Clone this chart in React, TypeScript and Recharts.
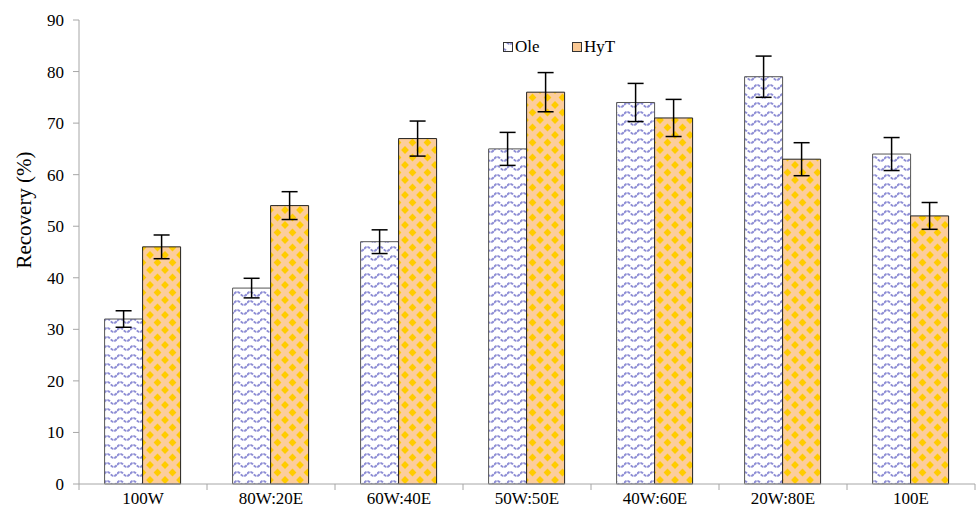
import { BarChart, Bar, XAxis, YAxis, ErrorBar } from 'recharts'

const categories = ['100W', '80W:20E', '60W:40E', '50W:50E', '40W:60E', '20W:80E', '100E']
const oleValues = [32, 38, 47, 65, 74, 79, 64]
const oleErrors = [1.6, 1.9, 2.3, 3.2, 3.7, 4.0, 3.2]
const hytValues = [46, 54, 67, 76, 71, 63, 52]
const hytErrors = [2.3, 2.7, 3.4, 3.8, 3.6, 3.2, 2.6]
const yTicks = [0, 10, 20, 30, 40, 50, 60, 70, 80, 90]

const data = categories.map((name, i) => ({
  name,
  ole: oleValues[i],
  oleErr: oleErrors[i],
  hyt: hytValues[i],
  hytErr: hytErrors[i],
}))

const FONT = 'Liberation Serif, Times New Roman, serif'
const AXIS = '#a6a6a6'
const BAND = 896 / categories.length

function XTick(props: any) {
  const { x, y, payload, index } = props
  return (
    <g>
      <line x1={x - BAND / 2} y1={y - 8} x2={x - BAND / 2} y2={y - 2} stroke={AXIS} />
      {index === categories.length - 1 && (
        <line x1={x + BAND / 2} y1={y - 8} x2={x + BAND / 2} y2={y - 2} stroke={AXIS} />
      )}
      <text x={x} y={y + 12} textAnchor="middle" fontFamily={FONT} fontSize={17} fill="#000">
        {payload.value}
      </text>
    </g>
  )
}

function YLabel() {
  return (
    <text
      x={24}
      y={210}
      transform="rotate(-90 24 210)"
      textAnchor="middle"
      dominantBaseline="central"
      fontFamily={FONT}
      fontSize={21}
      fill="#000"
    >
      Recovery (%)
    </text>
  )
}

export default function App() {
  return (
    <div style={{ position: 'absolute', left: 0, top: 0, width: 976, height: 511, background: '#fff' }}>
      <BarChart
        width={976}
        height={511}
        data={data}
        margin={{ top: 20, right: 1, left: 19, bottom: 2 }}
        barCategoryGap="20%"
        barGap={0}
      >
        <defs>
          <pattern id="wave" patternUnits="userSpaceOnUse" width={13} height={9}>
            <rect width={13} height={9} fill="#fff" />
            <path
              d="M0 6 Q3.25 2 6.5 6 T13 6"
              fill="none"
              stroke="#8c8cd4"
              strokeWidth={2}
              strokeDasharray="3 1"
            />
          </pattern>
          <pattern id="diamond" patternUnits="userSpaceOnUse" width={15} height={15}>
            <rect width={15} height={15} fill="#fccd9c" />
            <path d="M7.5 3.6 L11.4 7.5 L7.5 11.4 L3.6 7.5 Z" fill="#ffcc00" />
            <path d="M0 -3.9 L3.9 0 L0 3.9 L-3.9 0 Z" fill="#ffcc00" />
            <path d="M15 -3.9 L18.9 0 L15 3.9 L11.1 0 Z" fill="#ffcc00" />
            <path d="M0 11.1 L3.9 15 L0 18.9 L-3.9 15 Z" fill="#ffcc00" />
            <path d="M15 11.1 L18.9 15 L15 18.9 L11.1 15 Z" fill="#ffcc00" />
          </pattern>
        </defs>
        <XAxis
          dataKey="name"
          stroke={AXIS}
          tickLine={false}
          tick={<XTick />}
          height={25}
          interval={0}
        />
        <YAxis
          domain={[0, 90]}
          ticks={yTicks}
          stroke={AXIS}
          tickSize={6}
          tickMargin={9}
          width={60}
          tick={{ fontFamily: FONT, fontSize: 17, fill: '#000' }}
          label={{ content: () => <YLabel /> }}
        />
        <Bar dataKey="ole" name="Ole" fill="url(#wave)" stroke="#555" strokeWidth={1} isAnimationActive={false}>
          <ErrorBar dataKey="oleErr" width={8} stroke="#000" strokeWidth={1.5} />
        </Bar>
        <Bar dataKey="hyt" name="HyT" fill="url(#diamond)" stroke="#222" strokeWidth={1} isAnimationActive={false}>
          <ErrorBar dataKey="hytErr" width={8} stroke="#000" strokeWidth={1.5} />
        </Bar>
      </BarChart>
      <svg
        width={170}
        height={22}
        style={{ position: 'absolute', left: 500, top: 36, fontFamily: FONT }}
      >
        <rect x={3.5} y={6.5} width={9} height={9} fill="url(#wave)" stroke="#333" />
        <text x={15} y={16} fontSize={17} fill="#000">Ole</text>
        <rect x={72.5} y={6.5} width={9} height={9} fill="#f9c894" stroke="#333" />
        <text x={84} y={16} fontSize={17} fill="#000">HyT</text>
      </svg>
    </div>
  )
}
